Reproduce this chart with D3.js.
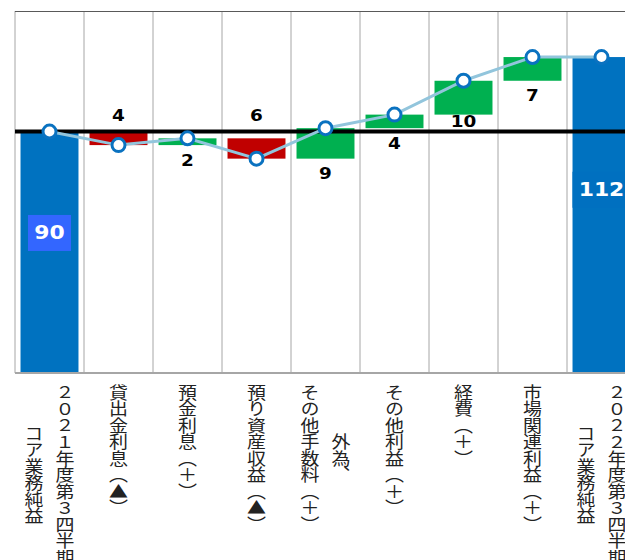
<!DOCTYPE html>
<html>
<head>
<meta charset="utf-8">
<script src="https://cdn.jsdelivr.net/npm/d3@7"></script>
<style>
  html, body { margin: 0; padding: 0; background: #fff; overflow: hidden; }
  svg { display: block; }
</style>
</head>
<body>
<svg id="chart" width="625" height="560"></svg>
<script>
// ---- data ----
const categories = [
  ["２０２１年度第３四半期", "コア業務純益"],
  ["貸出金利息（▲）"],
  ["預金利息（＋）"],
  ["預り資産収益（▲）"],
  ["外為、", "その他手数料（＋）"],
  ["その他利益（＋）"],
  ["経費（＋）"],
  ["市場関連利益（＋）"],
  ["２０２２年度第３四半期", "コア業務純益"]
];
const startValue = 90;
const deltas = [-4, 2, -6, 9, 4, 10, 7];
const endValue = 112;
const yDomain = [18.7, 125.6];

(function () {
// ---- build waterfall rows ----
const rows = [];
rows.push({ i: 0, type: "total", v0: yDomain[0], v1: startValue, level: startValue, value: startValue });
let cum = startValue;
deltas.forEach((d, k) => {
  rows.push({ i: k + 1, type: d < 0 ? "neg" : "pos", v0: cum, v1: cum + d, level: cum + d, value: d });
  cum += d;
});
rows.push({ i: deltas.length + 1, type: "total", v0: yDomain[0], v1: endValue, level: endValue, value: endValue });

const svg = d3.select("#chart");
const pLeft = 15, pTop = 11, pBottom = 373;
const idx = categories.map((c, i) => i);
const x = d3.scaleBand().domain(idx).range([pLeft, pLeft + 69 * categories.length])
  .paddingInner(0.16).paddingOuter(0.08);
const y = d3.scaleLinear().domain(yDomain).range([pBottom, pTop]);
const step = x.step();

// gridlines (column boundaries)
const bounds = d3.range(categories.length + 1).map(i => pLeft + i * step);
svg.append("g").selectAll("line").data(bounds).join("line")
  .attr("x1", d => d).attr("x2", d => d)
  .attr("y1", pTop).attr("y2", pBottom)
  .attr("stroke", "#a6a6a6").attr("stroke-width", 1);

// top border
svg.append("line").attr("x1", pLeft).attr("x2", 625).attr("y1", pTop + 0.5).attr("y2", pTop + 0.5)
  .attr("stroke", "#595959").attr("stroke-width", 1);

// bars
const colors = { total: "#0072c0", neg: "#c00000", pos: "#00b050" };
svg.append("g").selectAll("rect").data(rows).join("rect")
  .attr("x", d => x(d.i))
  .attr("width", x.bandwidth())
  .attr("y", d => y(Math.max(d.v0, d.v1)))
  .attr("height", d => Math.abs(y(d.v0) - y(d.v1)))
  .attr("fill", d => colors[d.type]);

// bottom border
svg.append("line").attr("x1", pLeft).attr("x2", 625).attr("y1", pBottom).attr("y2", pBottom)
  .attr("stroke", "#a6a6a6").attr("stroke-width", 2);

// baseline at start value
const yBase = y(startValue);
svg.append("line").attr("x1", pLeft).attr("x2", 625).attr("y1", yBase).attr("y2", yBase)
  .attr("stroke", "#000").attr("stroke-width", 4);

// cumulative line
const line = d3.line().x(d => x(d.i) + x.bandwidth() / 2).y(d => y(d.level));
svg.append("path").datum(rows).attr("d", line)
  .attr("fill", "none").attr("stroke", "#92c5dc").attr("stroke-width", 3);
svg.append("g").selectAll("circle").data(rows).join("circle")
  .attr("cx", d => x(d.i) + x.bandwidth() / 2)
  .attr("cy", d => y(d.level))
  .attr("r", 6.5)
  .attr("fill", "#fff").attr("stroke", "#0a72c0").attr("stroke-width", 3);

// delta labels
const numFont = "'DejaVu Sans', Verdana, sans-serif";
const stretch = 1.15;
rows.filter(d => d.type !== "total").forEach(d => {
  const cx = x(d.i) + x.bandwidth() / 2;
  let cy;
  if (d.type === "neg") {
    const topY = Math.min(y(d.v0), yBase);
    cy = topY - 16;
  } else {
    const botY = y(d.v0);
    cy = botY + 15;
    if (cy + 7 > yBase - 2 && cy - 7 < yBase + 2) {
      cy = botY < yBase - 10 ? yBase - 10 : yBase + 15;
    }
  }
  svg.append("text")
    .attr("transform", `translate(${cx},${cy}) scale(${stretch},1)`)
    .attr("text-anchor", "middle").attr("dominant-baseline", "central")
    .attr("font-family", numFont).attr("font-weight", "bold").attr("font-size", 16)
    .attr("fill", "#000")
    .text(Math.abs(d.value));
});

// total labels (boxed)
const boxColors = ["#3366ff", "#0070c0"];
rows.filter(d => d.type === "total").forEach((d, k) => {
  const cx = x(d.i) + x.bandwidth() / 2;
  const t = y(d.v1), b = y(d.v0);
  const cy = t + (b - t) * 0.42;
  const g = svg.append("g").attr("transform", `translate(${cx},${cy})`);
  const txt = String(d.value);
  const w = txt.length * 15 + 13;
  g.append("rect").attr("x", -w / 2).attr("y", -18).attr("width", w).attr("height", 36)
    .attr("fill", boxColors[k]);
  g.append("text").attr("transform", `scale(${stretch},1)`)
    .attr("text-anchor", "middle").attr("dominant-baseline", "central")
    .attr("font-family", numFont).attr("font-weight", "bold").attr("font-size", 19)
    .attr("fill", "#fff").text(txt);
});

// category labels (vertical)
const catFont = "'Noto Sans CJK JP', sans-serif";
const fs = 16.5, lineGap = 31, labelTop = 384;
categories.forEach((lines, i) => {
  const cx = x(i) + x.bandwidth() / 2;
  const maxLen = d3.max(lines, s => s.length) * fs;
  const cy = labelTop + maxLen / 2;
  const n = lines.length;
  lines.forEach((s, j) => {
    const lx = cx + ((n - 1) / 2 - j) * lineGap;
    svg.append("text")
      .attr("transform", `translate(${lx},${cy}) scale(${stretch},1)`)
      .style("writing-mode", "vertical-rl")
      .attr("text-anchor", "middle")
      .attr("font-family", catFont).attr("font-size", fs)
      .attr("fill", "#222")
      .text(s);
  });
});
})();
</script>
</body>
</html>
